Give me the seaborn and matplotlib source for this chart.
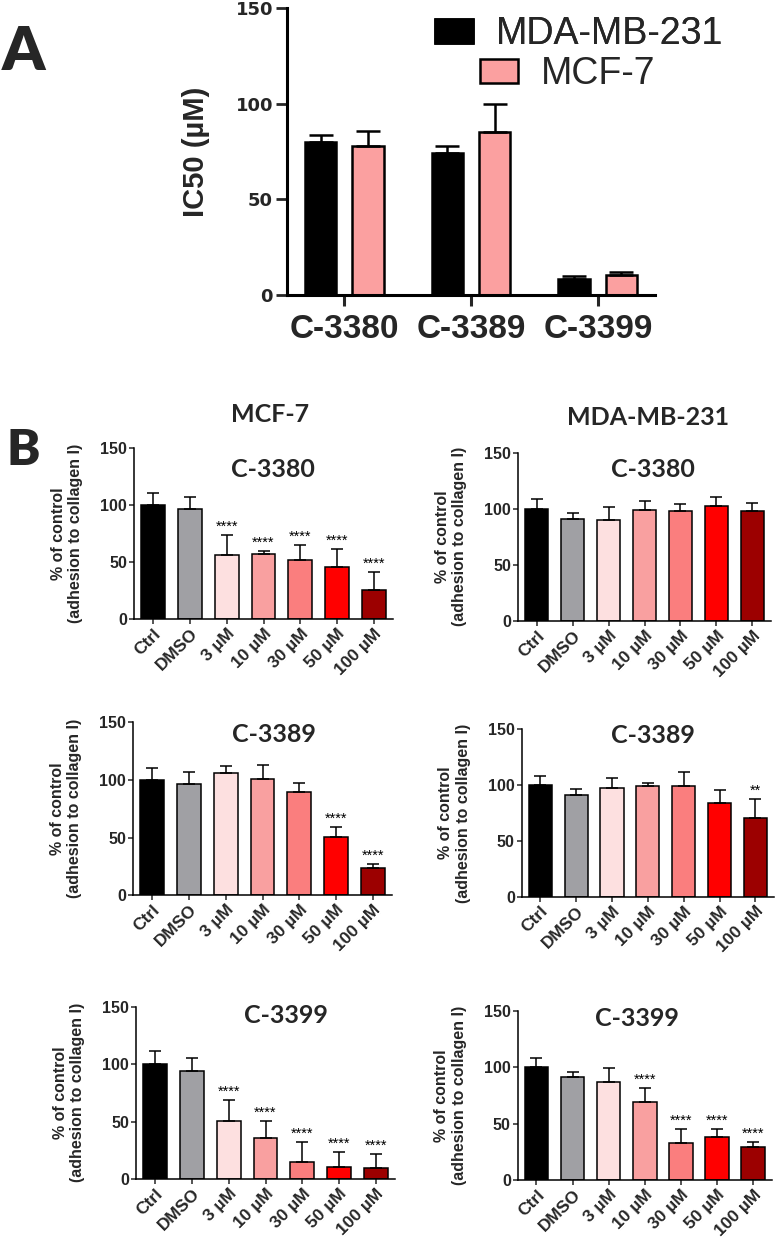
import numpy as np
import pandas as pd
import matplotlib
matplotlib.use("Agg")
import matplotlib.pyplot as plt
import seaborn as sns
from matplotlib.patches import Patch

# Panel A: IC50 values (uM), mean and upper error
compounds = ["C-3380", "C-3389", "C-3399"]
ic50_mda = [80, 74, 8.2]
ic50_mda_err = [3.5, 4, 1.6]
ic50_mcf = [78, 85, 10.5]
ic50_mcf_err = [7.5, 15, 1.4]

# Panel B: adhesion to collagen I (% of control)
treatments = ["Ctrl", "DMSO", "3 µM", "10 µM", "30 µM", "50 µM", "100 µM"]
treat_colors = ["#000000", "#a0a0a4", "#fde0e0", "#f9a0a0", "#fa7e7e", "#ff0000", "#9c0000"]

mcf7_3380 = [100, 96.5, 55.7, 57, 51.4, 45.8, 25.1]
mcf7_3380_err = [10.5, 10.3, 17.5, 2.9, 13.1, 15.8, 16]
mcf7_3380_stars = ["", "", "****", "****", "****", "****", "****"]

mda_3380 = [100, 91.2, 90, 99, 98, 102.5, 98]
mda_3380_err = [9, 5.3, 12, 8, 6, 8, 7.4]
mda_3380_stars = ["", "", "", "", "", "", ""]

mcf7_3389 = [100, 96.3, 106, 101, 89.1, 50.5, 23.9]
mcf7_3389_err = [10.4, 10.1, 6.3, 11.8, 8.4, 8.6, 3.5]
mcf7_3389_stars = ["", "", "", "", "", "****", "****"]

mda_3389 = [100, 91.4, 97.7, 98.9, 99.5, 83.7, 70.8]
mda_3389_err = [8.6, 5.1, 9, 3.3, 12.5, 11.6, 17]
mda_3389_stars = ["", "", "", "", "", "", "**"]

mcf7_3399 = [100, 94.3, 50.5, 35.4, 15.1, 10.4, 9.3]
mcf7_3399_err = [11, 10.7, 18.3, 15.1, 17.1, 13.4, 12.7]
mcf7_3399_stars = ["", "", "****", "****", "****", "****", "****"]

mda_3399 = [100, 91.4, 87.3, 68.9, 32.8, 38.5, 29.3]
mda_3399_err = [8.6, 4.2, 12.4, 13.1, 12.8, 6.8, 4.1]
mda_3399_stars = ["", "", "", "****", "****", "****", "****"]

W, H = 776, 1239
sns.set_style("ticks")
plt.rcParams["font.family"] = ["Liberation Sans", "DejaVu Sans"]
TITLE_FONT = ["Lato", "DejaVu Sans"]

fig = plt.figure(figsize=(W / 100, H / 100), dpi=100)


def px_rect(l, r, t, b):
    return [l / W, 1 - b / H, (r - l) / W, (b - t) / H]


# ---------------- Panel A ----------------
rectA = (287, 655, 8, 295)
axA = fig.add_axes(px_rect(*rectA))
dfA = pd.DataFrame({
    "compound": compounds * 2,
    "ic50": ic50_mda + ic50_mcf,
    "line": ["MDA-MB-231"] * 3 + ["MCF-7"] * 3,
})
line_colors = {"MDA-MB-231": "#000000", "MCF-7": "#fba0a0"}
sns.barplot(data=dfA, x="compound", y="ic50", hue="line", palette=line_colors,
            width=0.744, gap=0.33, edgecolor="black", linewidth=1.8, saturation=1,
            errorbar=None, legend=False, ax=axA)
for cont, errs in zip(axA.containers, [ic50_mda_err, ic50_mcf_err]):
    for bar, err in zip(cont, errs):
        xc = bar.get_x() + bar.get_width() / 2
        axA.errorbar(xc, bar.get_height(), yerr=[[0], [err]], fmt="none",
                     ecolor="black", elinewidth=1.8, capsize=8.5, capthick=1.8)
axA.set_xlim(-0.45, 2.45)
axA.set_ylim(0, 150)
axA.set_yticks([0, 50, 100, 150])
axA.set_xlabel("")
axA.set_ylabel("IC50 (µM)", fontsize=21, fontweight="bold")
axA.yaxis.set_label_coords(-77 / (rectA[1] - rectA[0]), 0.5)
axA.tick_params(axis="y", length=8, width=2, pad=2, labelsize=13)
axA.tick_params(axis="x", length=8, width=2.2, pad=6, labelsize=24)
for lab in axA.get_xticklabels():
    lab.set_fontweight("bold")
for lab in axA.get_yticklabels():
    lab.set_fontweight("bold")
    lab.set_family(["DejaVu Sans"])
sns.despine(ax=axA)
for s in ["left", "bottom"]:
    axA.spines[s].set_linewidth(2.2)
    axA.spines[s].set_color("black")

leg_kw = dict(loc="center left", frameon=False, fontsize=27, borderpad=0, borderaxespad=0,
              handlelength=1.0, handleheight=0.62, handletextpad=0.62)
leg1 = fig.legend(handles=[Patch(facecolor=line_colors["MDA-MB-231"], edgecolor="black", linewidth=1.8)],
                  labels=["MDA-MB-231"], bbox_to_anchor=(435 / W, 1 - 34.5 / H), **leg_kw)
leg2 = fig.legend(handles=[Patch(facecolor=line_colors["MCF-7"], edgecolor="black", linewidth=1.8)],
                  labels=["MCF-7"], bbox_to_anchor=(480 / W, 1 - 74 / H), **leg_kw)
fig.add_artist(leg1)

fig.text(2 / W, 1 - 70 / H, "A", fontsize=44, fontweight="heavy", family=TITLE_FONT,
         ha="left", va="baseline")

# ---------------- Panel B ----------------
fig.text(7 / W, 1 - 465 / H, "B", fontsize=36, fontweight="heavy", family=TITLE_FONT,
         ha="left", va="baseline")
fig.text(270 / W, 1 - 422 / H, "MCF-7", fontsize=18, fontweight="bold", family=TITLE_FONT,
         ha="center", va="baseline")
fig.text(648 / W, 1 - 425 / H, "MDA-MB-231", fontsize=18, fontweight="bold", family=TITLE_FONT,
         ha="center", va="baseline")

panels = [
    ((134, 393, 447.7, 619), mcf7_3380, mcf7_3380_err, mcf7_3380_stars, "C-3380", (0.535, 0.829)),
    ((518, 771, 452.7, 621), mda_3380, mda_3380_err, mda_3380_stars, "C-3380", (0.534, 0.856)),
    ((133, 392, 722, 895.3), mcf7_3389, mcf7_3389_err, mcf7_3389_stars, "C-3389", (0.546, 0.886)),
    ((521.7, 774, 729.3, 896.7), mda_3389, mda_3389_err, mda_3389_stars, "C-3389", (0.52, 0.916)),
    ((136, 395, 1006.7, 1179), mcf7_3399, mcf7_3399_err, mcf7_3399_stars, "C-3399", (0.58, 0.907)),
    ((517.7, 772, 1011, 1180), mda_3399, mda_3399_err, mda_3399_stars, "C-3399", (0.47, 0.912)),
]

palette = dict(zip(treatments, treat_colors))
for rect, values, errs, stars, title, (tx, ty) in panels:
    ax = fig.add_axes(px_rect(*rect))
    df = pd.DataFrame({"treatment": treatments, "value": values})
    sns.barplot(data=df, x="treatment", y="value", hue="treatment", palette=palette,
                legend=False, width=0.65, edgecolor="black", linewidth=1.1, saturation=1,
                errorbar=None, ax=ax)
    bars = [p for c in ax.containers for p in c]
    for bar, err, star in zip(bars, errs, stars):
        xc = bar.get_x() + bar.get_width() / 2
        top = bar.get_height()
        ax.errorbar(xc, top, yerr=[[0], [err]], fmt="none", ecolor="black",
                    elinewidth=1.1, capsize=4.5, capthick=1.1)
        if star:
            ax.text(xc, top + err + 1.0, star, ha="center", va="bottom", fontsize=10.5,
                    color="black")
    ax.set_xlim(-0.52, 6.52)
    ax.set_ylim(0, 150)
    ax.set_yticks([0, 50, 100, 150])
    ax.set_xlabel("")
    ax.set_ylabel("% of control\n(adhesion to collagen I)", fontsize=11.5, fontweight="bold")
    width_px = rect[1] - rect[0]
    ax.yaxis.set_label_coords(-51 / width_px, 0.5)
    ax.tick_params(axis="both", length=3.5, width=1.1, pad=1.5, labelsize=11.5)
    ax.set_xticks(range(len(treatments)))
    ax.set_xticklabels(treatments, rotation=45, ha="right", rotation_mode="anchor",
                       fontweight="bold", fontsize=12.5)
    for lab in ax.get_yticklabels():
        lab.set_fontweight("bold")
    sns.despine(ax=ax)
    for s in ["left", "bottom"]:
        ax.spines[s].set_linewidth(1.1)
        ax.spines[s].set_color("black")
    ax.text(tx, ty, title, transform=ax.transAxes, ha="center", va="baseline",
            fontsize=18, fontweight="bold", family=TITLE_FONT)

fig.savefig("out.png", dpi=100)
